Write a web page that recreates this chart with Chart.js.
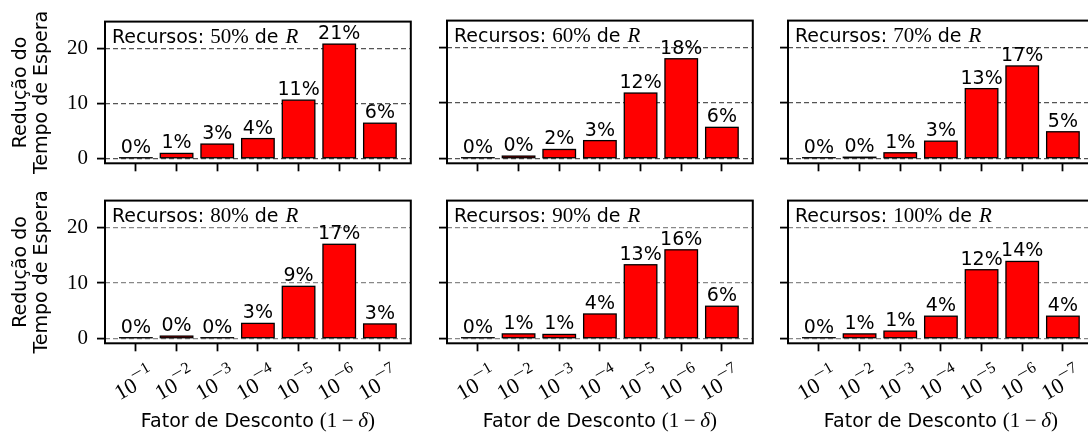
<!DOCTYPE html>
<html>
<head>
<meta charset="utf-8">
<script src="https://cdn.jsdelivr.net/npm/chart.js@4/dist/chart.umd.min.js"></script>
<style>
  html, body { margin: 0; padding: 0; background: #fff; overflow: hidden; width: 1088px; height: 436px; }
  #wrap { position: relative; width: 1100px; height: 436px; }
  #wrap canvas { position: absolute; left: 0; top: 0; }
</style>
</head>
<body>
<div id="wrap"></div>
<script>
// Discount factor exponents (tick labels read as 10^-n)
const discountExponents = ['1', '2', '3', '4', '5', '6', '7'];
// Resource levels, one per panel
const resourceLevels = ['50%', '60%', '70%', '80%', '90%', '100%'];
// Waiting-time reduction (%) per discount factor, one array per resource level
const reduction50  = [0.1, 0.9, 2.6, 3.6, 10.6, 20.8, 6.4];
const reduction60  = [0.1, 0.4, 1.6, 3.2, 11.8, 18.0, 5.6];
const reduction70  = [0.1, 0.2, 1.0, 3.1, 12.6, 16.7, 4.8];
const reduction80  = [0.1, 0.4, 0.1, 2.7, 9.4, 17.0, 2.6];
const reduction90  = [0.1, 0.8, 0.7, 4.4, 13.3, 16.0, 5.8];
const reduction100 = [0.1, 0.8, 1.3, 4.0, 12.4, 13.9, 4.0];
const yTicks = [0, 10, 20];

const seriesList = [reduction50, reduction60, reduction70, reduction80, reduction90, reduction100];

const SANS = "'DejaVu Sans', sans-serif";
const SERIF = "'Liberation Serif', 'DejaVu Serif', serif";
const FS = 19;      // sans text size
const FM = 21;      // math (serif) text size
const FT = 22;      // x tick base size
const FSUP = 16;    // superscript size

// panel frames on the page
const colLeft = [105, 447, 788];
const rowTop = [20.6, 200.6];
const panelW = 305.8;
const panelH = 142.7;
const canvasW = 1100, canvasH = 436;
const yAxisW = 40, xAxisH = 12;

function drawSegments(ctx, segs, x, y, align) {
  let total = 0;
  segs.forEach(s => { ctx.font = s.font; s.w = ctx.measureText(s.text).width + (s.pad || 0); total += s.w; });
  let cx = align === 'center' ? x - total / 2 : x;
  ctx.textAlign = 'left';
  ctx.textBaseline = 'alphabetic';
  segs.forEach(s => {
    ctx.font = s.font;
    ctx.fillText(s.text, cx + (s.pad || 0) / 2, y);
    cx += s.w;
  });
}

const panelDecor = {
  id: 'panelDecor',
  afterDatasetsDraw(chart) {
    const ctx = chart.ctx;
    const meta = chart.getDatasetMeta(0);
    ctx.save();
    // bar outlines, centred on the bar edges
    ctx.strokeStyle = '#000';
    ctx.lineWidth = 1.3;
    meta.data.forEach(el => {
      const w = el.width;
      ctx.strokeRect(el.x - w / 2, Math.min(el.y, el.base), w, Math.abs(el.base - el.y));
    });
    ctx.restore();
  },
  afterDraw(chart, args, opts) {
    const ctx = chart.ctx;
    const a = chart.chartArea;
    const meta = chart.getDatasetMeta(0);
    const values = chart.data.datasets[0].data;
    ctx.save();
    ctx.fillStyle = '#000';

    // value labels above bars
    ctx.font = FS + 'px ' + SANS;
    ctx.textAlign = 'center';
    ctx.textBaseline = 'alphabetic';
    meta.data.forEach((el, i) => {
      ctx.fillText(Math.round(values[i].y) + '%', el.x, el.y - 5);
    });

    // panel title
    drawSegments(ctx, [
      { text: 'Recursos: ', font: FS + 'px ' + SANS },
      { text: opts.level, font: FM + 'px ' + SERIF },
      { text: ' de ', font: FS + 'px ' + SANS },
      { text: 'R', font: 'italic ' + FM + 'px ' + SERIF, pad: 2 }
    ], a.left + 7, a.top + 21, 'left');

    // frame
    ctx.strokeStyle = '#000';
    ctx.lineWidth = 2;
    ctx.strokeRect(a.left, a.top, a.right - a.left, a.bottom - a.top);

    // x tick labels 10^-n, rotated
    if (opts.xLabels) {
      const xs = chart.scales.x;
      discountExponents.forEach((n, i) => {
        const px = xs.getPixelForValue(i);
        ctx.save();
        ctx.translate(px - 3, a.bottom + 38);
        ctx.rotate(-Math.PI / 6);
        ctx.font = FT + 'px ' + SERIF;
        const w1 = ctx.measureText('10').width;
        ctx.font = FSUP + 'px ' + SERIF;
        const wm = ctx.measureText('\u2212').width * 1.35;
        const w2 = wm + ctx.measureText(n).width;
        const x0 = -(w1 + w2) / 2;
        ctx.textAlign = 'left';
        ctx.textBaseline = 'alphabetic';
        ctx.font = FT + 'px ' + SERIF;
        ctx.fillText('10', x0, 10);
        ctx.font = FSUP + 'px ' + SERIF;
        ctx.save();
        ctx.translate(x0 + w1, -0.5);
        ctx.scale(1.35, 1);
        ctx.fillText('\u2212', 0, 0);
        ctx.restore();
        ctx.fillText(n, x0 + w1 + wm, -0.5);
        ctx.restore();
      });
      // x axis title
      drawSegments(ctx, [
        { text: 'Fator de Desconto ', font: FS + 'px ' + SANS },
        { text: '(1', font: FM + 'px ' + SERIF },
        { text: '\u2212', font: FM + 'px ' + SERIF, pad: 9 },
        { text: '\u03B4', font: 'italic ' + FM + 'px ' + SERIF },
        { text: ')', font: FM + 'px ' + SERIF }
      ], (a.left + a.right) / 2, 427, 'center');
    }

    // y axis title (two lines, rotated)
    if (opts.yTitle) {
      ctx.save();
      ctx.translate(0, (a.top + a.bottom) / 2);
      ctx.rotate(-Math.PI / 2);
      ctx.font = FS + 'px ' + SANS;
      ctx.textAlign = 'center';
      ctx.textBaseline = 'alphabetic';
      ctx.fillText('Redu\u00e7\u00e3o do', 0, 25.5);
      ctx.fillText('Tempo de Espera', 0, 47);
      ctx.restore();
    }
    ctx.restore();
  }
};

const wrap = document.getElementById('wrap');

seriesList.forEach((series, idx) => {
  const row = Math.floor(idx / 3), col = idx % 3;
  const L = colLeft[col], T = rowTop[row];
  const canvas = document.createElement('canvas');
  canvas.width = canvasW; canvas.height = canvasH;
  canvas.style.width = canvasW + 'px'; canvas.style.height = canvasH + 'px';
  wrap.appendChild(canvas);

  const gridColor = row === 0 ? '#555555' : '#888888';

  new Chart(canvas, {
    type: 'bar',
    data: {
      datasets: [{
        data: series.map((v, i) => ({ x: i, y: v })),
        backgroundColor: '#ff0000',
        borderWidth: 0,
        categoryPercentage: 1.0,
        barPercentage: 0.8
      }]
    },
    options: {
      responsive: false,
      animation: false,
      events: [],
      layout: {
        padding: {
          left: L - yAxisW,
          top: T,
          right: canvasW - (L + panelW),
          bottom: canvasH - (T + panelH) - xAxisH
        }
      },
      plugins: {
        legend: { display: false },
        tooltip: { enabled: false },
        panelDecor: { level: resourceLevels[idx], xLabels: row === 1, yTitle: col === 0 }
      },
      scales: {
        x: {
          type: 'linear',
          offset: false,
          min: -0.76,
          max: 6.76,
          afterBuildTicks: s => { s.ticks = discountExponents.map((_, i) => ({ value: i })); },
          afterFit: s => { s.height = xAxisH; },
          ticks: { display: false },
          grid: { offset: false, drawOnChartArea: false, drawTicks: true, tickLength: 8, tickColor: '#000', tickWidth: 1.8 },
          border: { display: false }
        },
        y: {
          min: -0.9,
          max: 24.9,
          afterBuildTicks: s => { s.ticks = yTicks.map(v => ({ value: v })); },
          afterFit: s => { s.width = yAxisW; },
          ticks: {
            display: col === 0,
            padding: 9,
            color: '#000',
            font: { family: SERIF, size: FM },
            callback: v => String(v)
          },
          grid: { color: gridColor, lineWidth: 1.2, drawTicks: true, tickLength: 8, tickColor: '#000', tickWidth: 1.8 },
          border: { display: false, dash: [5, 3] }
        }
      }
    },
    plugins: [panelDecor]
  });
});
</script>
</body>
</html>
